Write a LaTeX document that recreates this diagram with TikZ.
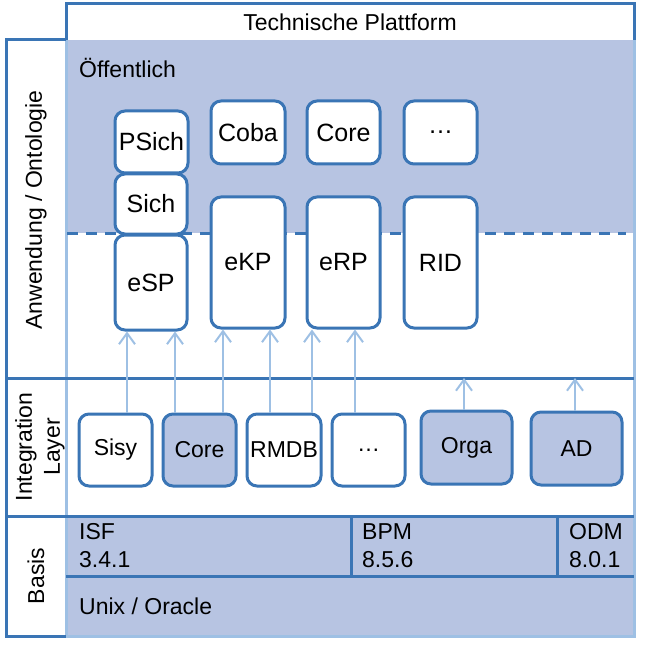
\documentclass[tikz,border=0pt]{standalone}
\usepackage{fontspec}
\setmainfont{Liberation Sans}
\usetikzlibrary{arrows.meta}
\definecolor{dkblue}{HTML}{3A75B5}
\definecolor{ltblue}{HTML}{9EC0E4}
\definecolor{lav}{HTML}{B7C4E2}
\tikzset{
  box/.style={draw=dkblue, line width=3pt, rounded corners=10pt, fill=white, inner sep=0pt, font=\fontsize{23}{27}\selectfont},
  upbox/.style={box, font=\fontsize{25}{29}\selectfont},
  lavbox/.style={box, fill=lav},
  arr/.style={draw=ltblue, line width=2pt, -{Straight Barb[length=11pt,width=16pt,line width=2pt]}},
  dk/.style={draw=dkblue, line width=3pt},
  lt/.style={draw=ltblue, line width=3pt},
  lbl/.style={font=\fontsize{23}{28}\selectfont, inner sep=0pt},
}
\begin{document}
\begin{tikzpicture}[x=1pt,y=-1pt]
\useasboundingbox (0,0) rectangle (652,652);
% fills
\fill[lav] (66,40) rectangle (634,233);
\fill[lav] (66,516) rectangle (634,636);
% light frame
\draw[lt] (66,40) -- (66,636) -- (634,636) -- (634,40);
% title box
\draw[dk] (66,40) -- (66,4) -- (634,4) -- (634,40);
\node[lbl] (title) at (350,22) {Technische Plattform};
% left column
\draw[dk] (66,40) -- (6,40) -- (6,636) -- (66,636);
\coordinate (il) at (6,378);
\coordinate (bl) at (6,516);
\draw[dk] (il) -- (634,378);
\draw[dk] (bl) -- (634,516);
\draw[dk] (66,576) -- (634,576);
\draw[dk] (351,516) -- (351,576);
\draw[dk] (557,516) -- (557,576);
% dashed line
\draw[dk, dash pattern=on 11pt off 8pt] (67,233) -- (626,233);
% side labels
\node[lbl, rotate=90] (anw) at (36,210) {Anwendung / Ontologie};
\node[lbl, rotate=90, align=center] (intl) at (40,447) {Integration\\Layer};
\node[lbl, rotate=90] (bas) at (36,576) {Basis};
% region labels
\node[lbl, anchor=west] (oeff) at (79,68) {Öffentlich};
\node[lbl, anchor=west, align=left] (isf) at (79,546) {ISF\\3.4.1};
\node[lbl, anchor=west, align=left] (bpm) at (362,546) {BPM\\8.5.6};
\node[lbl, anchor=west, align=left] (odm) at (569,546) {ODM\\8.0.1};
\node[lbl, anchor=west] (unix) at (79,606) {Unix / Oracle};
% application boxes
\node[upbox, minimum width=73pt, minimum height=62pt] (psich) at (151.5,142) {PSich};
\node[upbox, minimum width=72pt, minimum height=60pt] (sich) at (151,204) {Sich};
\node[upbox, minimum width=72pt, minimum height=95pt] (esp) at (151,282.5) {eSP};
\node[upbox, minimum width=74pt, minimum height=63pt] (coba) at (248,132.5) {Coba};
\node[upbox, minimum width=73pt, minimum height=63pt] (coretop) at (343.5,132.5) {Core};
\node[upbox, minimum width=73pt, minimum height=63pt] (dotstop) at (440.5,132.5) {\dots};
\node[upbox, minimum width=74pt, minimum height=131pt] (ekp) at (248,262.5) {eKP};
\node[upbox, minimum width=73pt, minimum height=131pt] (erp) at (343.5,262.5) {eRP};
\node[upbox, minimum width=73pt, minimum height=131pt] (rid) at (440.5,262.5) {RID};
% integration boxes
\node[box, minimum width=73pt, minimum height=72pt] (sisy) at (115.5,450) {Sisy};
\node[lavbox, minimum width=73pt, minimum height=72pt] (core) at (199.5,450) {Core};
\node[box, minimum width=74pt, minimum height=72pt] (rmdb) at (284,450) {RMDB};
\node[box, minimum width=73pt, minimum height=72pt] (dots) at (368.5,450) {\dots};
\node[lavbox, minimum width=91pt, minimum height=73pt] (orga) at (466.5,447.5) {Orga};
\node[lavbox, minimum width=91pt, minimum height=73pt] (ad) at (576.5,448.5) {AD};
% arrows
\draw[arr] ([xshift=11.5]sisy.north) coordinate (a1) -- (a1 |- esp.south);
\draw[arr] ([xshift=-24.5]core.north) coordinate (a2) -- (a2 |- esp.south);
\draw[arr] ([xshift=23.5]core.north) coordinate (a3) -- (a3 |- ekp.south);
\draw[arr] ([xshift=-14]rmdb.north) coordinate (a4) -- (a4 |- ekp.south);
\draw[arr] ([xshift=28]rmdb.north) coordinate (a5) -- (a5 |- erp.south);
\draw[arr] ([xshift=-13.5]dots.north) coordinate (a6) -- (a6 |- erp.south);
\draw[arr] ([xshift=-2.5]orga.north) coordinate (a7) -- (a7 |- il);
\draw[arr] ([xshift=-1.5]ad.north) coordinate (a8) -- (a8 |- il);
\end{tikzpicture}
\end{document}
